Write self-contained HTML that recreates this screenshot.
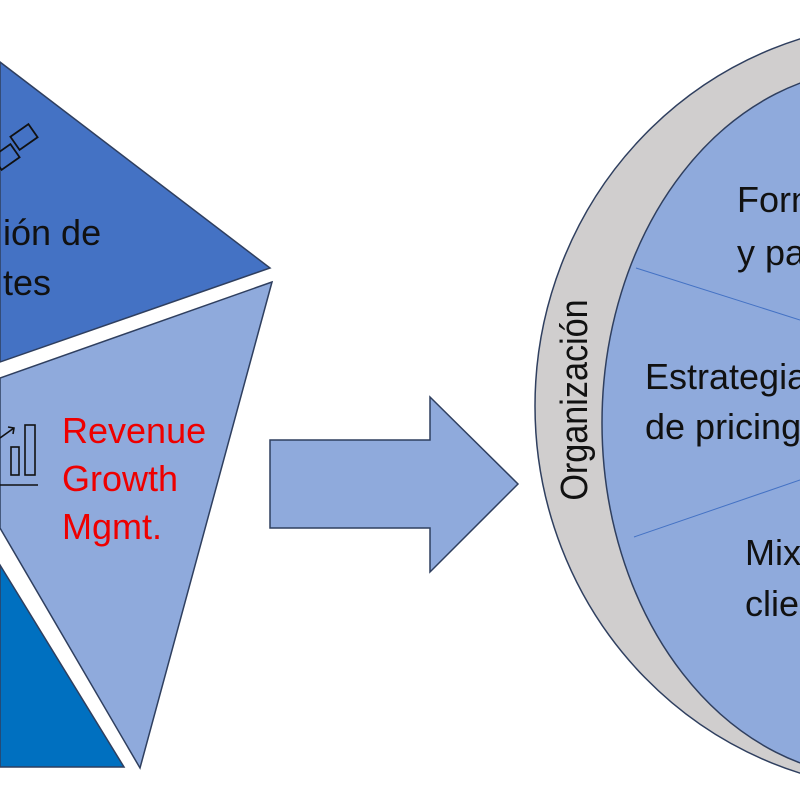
<!DOCTYPE html>
<html><head><meta charset="utf-8"><style>
html,body{margin:0;padding:0;background:#fff;width:800px;height:800px;overflow:hidden}
</style></head><body>
<svg width="800" height="800" viewBox="0 0 800 800" xmlns="http://www.w3.org/2000/svg" font-family="'Liberation Sans', sans-serif">
<rect width="800" height="800" fill="#fff"/>
<polygon points="0,62 270,268 0,362" fill="#4472C4" stroke="#2F3F5F" stroke-width="1.5"/>
<polygon points="272,282 0,378 0,528 140,768" fill="#8FAADC" stroke="#2F3F5F" stroke-width="1.5"/>
<polygon points="0,565 124,767 0,767" fill="#0070C0" stroke="#2F3F5F" stroke-width="1.5"/>
<g fill="none" stroke="#111" stroke-width="1.8">
<rect x="16" y="126" width="16" height="22" transform="rotate(55 24 137)"/>
<rect x="-2" y="146" width="16" height="22" transform="rotate(55 6 157)"/>
</g>
<text x="3" y="245" font-size="36" fill="#111">ión de</text>
<text x="3" y="295" font-size="36" fill="#111">tes</text>
<g fill="none" stroke="#111" stroke-width="1.6">
<rect x="11" y="447" width="8" height="28"/>
<rect x="25" y="425" width="10" height="50"/>
<line x1="0" y1="485" x2="38" y2="485"/>
<polyline points="0,438 14,428"/>
<polyline points="8,427 14,428 13,434"/>
</g>
<text x="62" y="443" font-size="36" fill="#E00">Revenue</text>
<text x="62" y="491" font-size="36" fill="#E00">Growth</text>
<text x="62" y="539" font-size="36" fill="#E00">Mgmt.</text>
<polygon points="270,440 430,440 430,397 518,484 430,572 430,528 270,528" fill="#8FAADC" stroke="#2F3F5F" stroke-width="1.5"/>
<ellipse cx="910" cy="406" rx="375" ry="384" fill="#D0CECE" stroke="#2F3F5F" stroke-width="1.5"/>
<ellipse cx="877" cy="423" rx="275" ry="354" fill="#8FAADC" stroke="#2F3F5F" stroke-width="1.5"/>
<line x1="636" y1="268" x2="800" y2="320" stroke="#4472C4" stroke-width="1"/>
<line x1="634" y1="537" x2="800" y2="480" stroke="#4472C4" stroke-width="1"/>
<text x="737" y="212" font-size="36" fill="#111">Forn</text>
<text x="737" y="265" font-size="36" fill="#111">y pa</text>
<text x="645" y="389" font-size="36" fill="#111">Estrategia</text>
<text x="645" y="439" font-size="36" fill="#111">de pricing</text>
<text x="745" y="565" font-size="36" fill="#111">Mix</text>
<text x="745" y="616" font-size="36" fill="#111">clie</text>
<text transform="translate(587,400) rotate(-90) scale(0.9,1)" text-anchor="middle" font-size="38" fill="#111">Organización</text>
</svg>
</body></html>
